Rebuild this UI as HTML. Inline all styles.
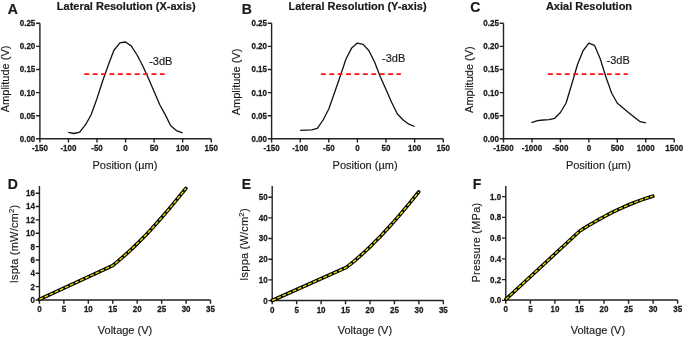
<!DOCTYPE html><html><head><meta charset="utf-8"><style>
html,body{margin:0;padding:0;background:#fff;width:685px;height:338px;overflow:hidden}
svg{display:block;position:absolute;left:0;top:0} .ov{will-change:transform} text{font-family:"Liberation Sans", sans-serif;fill:#1a1a1a} .tk{font-size:8px;font-weight:bold;stroke:#1a1a1a;stroke-width:0.25px} .pl{font-size:14px;font-weight:bold;stroke:#1a1a1a;stroke-width:0.2px} .ti{font-size:11px;font-weight:bold;stroke:#1a1a1a;stroke-width:0.2px} .lb{font-size:11px;stroke:#1a1a1a;stroke-width:0.15px}
</style></head><body>
<svg width="685" height="338" viewBox="0 0 685 338">
<rect width="685" height="338" fill="#fff"/>
<path d="M39.9 23.3V138.8H211.2" fill="none" stroke="#222" stroke-width="1.4"/>
<path d="M36.1 138.8H39.9M36.1 115.7H39.9M36.1 92.6H39.9M36.1 69.5H39.9M36.1 46.4H39.9M36.1 23.3H39.9M39.9 138.8V142.6M68.45 138.8V142.6M97 138.8V142.6M125.55 138.8V142.6M154.1 138.8V142.6M182.65 138.8V142.6M211.2 138.8V142.6" fill="none" stroke="#222" stroke-width="1.4"/>
<path d="M271.6 23.3V138.8H443.2" fill="none" stroke="#222" stroke-width="1.4"/>
<path d="M267.8 138.8H271.6M267.8 115.7H271.6M267.8 92.6H271.6M267.8 69.5H271.6M267.8 46.4H271.6M267.8 23.3H271.6M271.6 138.8V142.6M300.2 138.8V142.6M328.8 138.8V142.6M357.4 138.8V142.6M386 138.8V142.6M414.6 138.8V142.6M443.2 138.8V142.6" fill="none" stroke="#222" stroke-width="1.4"/>
<path d="M503.5 23.3V138.8H674.2" fill="none" stroke="#222" stroke-width="1.4"/>
<path d="M499.7 138.8H503.5M499.7 115.7H503.5M499.7 92.6H503.5M499.7 69.5H503.5M499.7 46.4H503.5M499.7 23.3H503.5M503.5 138.8V142.6M531.95 138.8V142.6M560.4 138.8V142.6M588.85 138.8V142.6M617.3 138.8V142.6M645.75 138.8V142.6M674.2 138.8V142.6" fill="none" stroke="#222" stroke-width="1.4"/>
<path d="M68.3 132.4 L74 133.5 L79.7 132.1 L85.9 124.2 L91.1 114.8 L97 98.5 L102.8 80.5 L108.5 64.5 L113.8 50.5 L119.9 42.8 L125.4 42 L131.2 45.9 L137.1 55 L142.8 66 L148.5 78.4 L154.2 91.7 L159.9 105 L165.6 115.4 L170.7 125.7 L177 130.9 L182.6 132.8" fill="none" stroke="#111" stroke-width="1.3" stroke-linejoin="round"/>
<path d="M300.2 130.4 L305.9 130.2 L311.6 129.9 L317.3 128.3 L323.1 120 L328.8 109 L334.5 92.7 L340.2 76.3 L346 59 L351.7 47.9 L357.4 43.1 L363.1 44.4 L368.8 50.5 L374.6 62 L380.3 76.8 L386 89.6 L391.7 102.5 L397.4 114 L403.2 120 L408.9 124.2 L414.6 126.5" fill="none" stroke="#111" stroke-width="1.3" stroke-linejoin="round"/>
<path d="M531.4 122.7 L537.6 120.7 L543.3 120 L549 119.7 L554.7 118.3 L560.4 112.5 L566.1 103 L571.8 84 L577.5 64.5 L583.2 50.5 L588.9 43.1 L594.6 45.4 L600.3 59 L606 77.2 L611.7 93.3 L617.4 103.3 L623.1 108 L628.7 112.7 L634.4 117.3 L640.1 121.7 L645.8 122.8" fill="none" stroke="#111" stroke-width="1.3" stroke-linejoin="round"/>
<path d="M84.3 74.1H164.7" stroke="#ff0f0f" stroke-width="1.7" stroke-dasharray="4.9 3.5"/>
<path d="M320.9 74.1H400.9" stroke="#ff0f0f" stroke-width="1.7" stroke-dasharray="4.9 3.5"/>
<path d="M548 74.1H627.8" stroke="#ff0f0f" stroke-width="1.7" stroke-dasharray="4.9 3.5"/>
<path d="M39.45 186V300H210.53" fill="none" stroke="#222" stroke-width="1.4"/>
<path d="M35.65 300H39.45M35.65 286.65H39.45M35.65 273.3H39.45M35.65 259.95H39.45M35.65 246.6H39.45M35.65 233.25H39.45M35.65 219.9H39.45M35.65 206.55H39.45M35.65 193.2H39.45M39.45 300V303.8M63.89 300V303.8M88.33 300V303.8M112.77 300V303.8M137.21 300V303.8M161.65 300V303.8M186.09 300V303.8M210.53 300V303.8" fill="none" stroke="#222" stroke-width="1.4"/>
<path d="M39.45 299.4 L112.6 265.6 L117.49 261.63 L122.37 257.46 L127.26 253.1 L132.15 248.56 L137.03 243.84 L141.92 238.96 L146.81 233.9 L151.69 228.69 L156.58 223.32 L161.47 217.81 L166.35 212.16 L171.24 206.38 L176.13 200.47 L181.01 194.44 L185.9 188.29" fill="none" stroke="#000" stroke-width="3.6" stroke-linecap="round" stroke-linejoin="round"/>
<path d="M39.45 299.4 L112.6 265.6 L117.49 261.63 L122.37 257.46 L127.26 253.1 L132.15 248.56 L137.03 243.84 L141.92 238.96 L146.81 233.9 L151.69 228.69 L156.58 223.32 L161.47 217.81 L166.35 212.16 L171.24 206.38 L176.13 200.47 L181.01 194.44 L185.9 188.29" fill="none" stroke="#e6de00" stroke-width="1.4" stroke-dasharray="3.9 1.7"/>
<path d="M272.2 186.1V300.5H443.35" fill="none" stroke="#222" stroke-width="1.4"/>
<path d="M268.4 300.6H272.2M268.4 279.92H272.2M268.4 259.24H272.2M268.4 238.56H272.2M268.4 217.88H272.2M268.4 197.2H272.2M272.2 300.5V304.3M296.65 300.5V304.3M321.1 300.5V304.3M345.55 300.5V304.3M370 300.5V304.3M394.45 300.5V304.3M418.9 300.5V304.3M443.35 300.5V304.3" fill="none" stroke="#222" stroke-width="1.4"/>
<path d="M272.2 300.5 L346.3 267.45 L351.13 263.62 L355.95 259.59 L360.78 255.37 L365.61 250.96 L370.43 246.36 L375.26 241.59 L380.09 236.65 L384.91 231.55 L389.74 226.3 L394.57 220.9 L399.39 215.35 L404.22 209.67 L409.05 203.87 L413.87 197.94 L418.7 191.9" fill="none" stroke="#000" stroke-width="3.6" stroke-linecap="round" stroke-linejoin="round"/>
<path d="M272.2 300.5 L346.3 267.45 L351.13 263.62 L355.95 259.59 L360.78 255.37 L365.61 250.96 L370.43 246.36 L375.26 241.59 L380.09 236.65 L384.91 231.55 L389.74 226.3 L394.57 220.9 L399.39 215.35 L404.22 209.67 L409.05 203.87 L413.87 197.94 L418.7 191.9" fill="none" stroke="#e6de00" stroke-width="1.4" stroke-dasharray="3.9 1.7"/>
<path d="M505.8 186.1V300H677.65" fill="none" stroke="#222" stroke-width="1.4"/>
<path d="M502 300.4H505.8M502 279.64H505.8M502 258.88H505.8M502 238.12H505.8M502 217.36H505.8M502 196.6H505.8M505.8 300V303.8M530.35 300V303.8M554.9 300V303.8M579.45 300V303.8M604 300V303.8M628.55 300V303.8M653.1 300V303.8M677.65 300V303.8" fill="none" stroke="#222" stroke-width="1.4"/>
<path d="M505.8 299.4 L579.5 231.2 L584.39 228.09 L589.27 225.09 L594.16 222.2 L599.05 219.41 L603.93 216.73 L608.82 214.15 L613.71 211.69 L618.59 209.34 L623.48 207.11 L628.37 204.99 L633.25 202.99 L638.14 201.11 L643.03 199.35 L647.91 197.71 L652.8 196.2" fill="none" stroke="#000" stroke-width="3.6" stroke-linecap="round" stroke-linejoin="round"/>
<path d="M505.8 299.4 L579.5 231.2 L584.39 228.09 L589.27 225.09 L594.16 222.2 L599.05 219.41 L603.93 216.73 L608.82 214.15 L613.71 211.69 L618.59 209.34 L623.48 207.11 L628.37 204.99 L633.25 202.99 L638.14 201.11 L643.03 199.35 L647.91 197.71 L652.8 196.2" fill="none" stroke="#e6de00" stroke-width="1.4" stroke-dasharray="3.9 1.7"/>
</svg>
<svg class="ov" width="685" height="338" viewBox="0 0 685 338">
<text transform="translate(35.3 141.7) scale(1 1.14)" text-anchor="end" class="tk">0.00</text>
<text transform="translate(35.3 118.6) scale(1 1.14)" text-anchor="end" class="tk">0.05</text>
<text transform="translate(35.3 95.5) scale(1 1.14)" text-anchor="end" class="tk">0.10</text>
<text transform="translate(35.3 72.4) scale(1 1.14)" text-anchor="end" class="tk">0.15</text>
<text transform="translate(35.3 49.3) scale(1 1.14)" text-anchor="end" class="tk">0.20</text>
<text transform="translate(35.3 26.2) scale(1 1.14)" text-anchor="end" class="tk">0.25</text>
<text transform="translate(39.9 151.2) scale(1 1.14)" text-anchor="middle" class="tk">-150</text>
<text transform="translate(68.45 151.2) scale(1 1.14)" text-anchor="middle" class="tk">-100</text>
<text transform="translate(97 151.2) scale(1 1.14)" text-anchor="middle" class="tk">-50</text>
<text transform="translate(125.55 151.2) scale(1 1.14)" text-anchor="middle" class="tk">0</text>
<text transform="translate(154.1 151.2) scale(1 1.14)" text-anchor="middle" class="tk">50</text>
<text transform="translate(182.65 151.2) scale(1 1.14)" text-anchor="middle" class="tk">100</text>
<text transform="translate(211.2 151.2) scale(1 1.14)" text-anchor="middle" class="tk">150</text>
<text x="7.8" y="14.2" class="pl">A</text>
<text x="126.2" y="9.8" text-anchor="middle" class="ti">Lateral Resolution (X-axis)</text>
<text transform="translate(9.2 78.9) rotate(-90)" text-anchor="middle" class="lb">Amplitude (V)</text>
<text x="124.95" y="168.7" text-anchor="middle" class="lb">Position (µm)</text>
<text transform="translate(267 141.7) scale(1 1.14)" text-anchor="end" class="tk">0.00</text>
<text transform="translate(267 118.6) scale(1 1.14)" text-anchor="end" class="tk">0.05</text>
<text transform="translate(267 95.5) scale(1 1.14)" text-anchor="end" class="tk">0.10</text>
<text transform="translate(267 72.4) scale(1 1.14)" text-anchor="end" class="tk">0.15</text>
<text transform="translate(267 49.3) scale(1 1.14)" text-anchor="end" class="tk">0.20</text>
<text transform="translate(267 26.2) scale(1 1.14)" text-anchor="end" class="tk">0.25</text>
<text transform="translate(271.6 151.2) scale(1 1.14)" text-anchor="middle" class="tk">-150</text>
<text transform="translate(300.2 151.2) scale(1 1.14)" text-anchor="middle" class="tk">-100</text>
<text transform="translate(328.8 151.2) scale(1 1.14)" text-anchor="middle" class="tk">-50</text>
<text transform="translate(357.4 151.2) scale(1 1.14)" text-anchor="middle" class="tk">0</text>
<text transform="translate(386 151.2) scale(1 1.14)" text-anchor="middle" class="tk">50</text>
<text transform="translate(414.6 151.2) scale(1 1.14)" text-anchor="middle" class="tk">100</text>
<text transform="translate(443.2 151.2) scale(1 1.14)" text-anchor="middle" class="tk">150</text>
<text x="241.8" y="14" class="pl">B</text>
<text x="357.5" y="9.8" text-anchor="middle" class="ti">Lateral Resolution (Y-axis)</text>
<text transform="translate(240.1 82) rotate(-90)" text-anchor="middle" class="lb">Amplitude (V)</text>
<text x="365.1" y="168.7" text-anchor="middle" class="lb">Position (µm)</text>
<text transform="translate(498.9 141.7) scale(1 1.14)" text-anchor="end" class="tk">0.00</text>
<text transform="translate(498.9 118.6) scale(1 1.14)" text-anchor="end" class="tk">0.05</text>
<text transform="translate(498.9 95.5) scale(1 1.14)" text-anchor="end" class="tk">0.10</text>
<text transform="translate(498.9 72.4) scale(1 1.14)" text-anchor="end" class="tk">0.15</text>
<text transform="translate(498.9 49.3) scale(1 1.14)" text-anchor="end" class="tk">0.20</text>
<text transform="translate(498.9 26.2) scale(1 1.14)" text-anchor="end" class="tk">0.25</text>
<text transform="translate(503.5 151.2) scale(1 1.14)" text-anchor="middle" class="tk">-1500</text>
<text transform="translate(531.95 151.2) scale(1 1.14)" text-anchor="middle" class="tk">-1000</text>
<text transform="translate(560.4 151.2) scale(1 1.14)" text-anchor="middle" class="tk">-500</text>
<text transform="translate(588.85 151.2) scale(1 1.14)" text-anchor="middle" class="tk">0</text>
<text transform="translate(617.3 151.2) scale(1 1.14)" text-anchor="middle" class="tk">500</text>
<text transform="translate(645.75 151.2) scale(1 1.14)" text-anchor="middle" class="tk">1000</text>
<text transform="translate(674.2 151.2) scale(1 1.14)" text-anchor="middle" class="tk">1500</text>
<text x="470.2" y="11.5" class="pl">C</text>
<text x="589" y="9.8" text-anchor="middle" class="ti">Axial Resolution</text>
<text transform="translate(472.8 79.6) rotate(-90)" text-anchor="middle" class="lb">Amplitude (V)</text>
<text x="598.4" y="168.7" text-anchor="middle" class="lb">Position (µm)</text>
<text x="149.2" y="65" class="lb">-3dB</text>
<text x="382.1" y="61.7" class="lb">-3dB</text>
<text x="606.5" y="63.5" class="lb">-3dB</text>
<text transform="translate(34.85 302.9) scale(1 1.14)" text-anchor="end" class="tk">0</text>
<text transform="translate(34.85 289.55) scale(1 1.14)" text-anchor="end" class="tk">2</text>
<text transform="translate(34.85 276.2) scale(1 1.14)" text-anchor="end" class="tk">4</text>
<text transform="translate(34.85 262.85) scale(1 1.14)" text-anchor="end" class="tk">6</text>
<text transform="translate(34.85 249.5) scale(1 1.14)" text-anchor="end" class="tk">8</text>
<text transform="translate(34.85 236.15) scale(1 1.14)" text-anchor="end" class="tk">10</text>
<text transform="translate(34.85 222.8) scale(1 1.14)" text-anchor="end" class="tk">12</text>
<text transform="translate(34.85 209.45) scale(1 1.14)" text-anchor="end" class="tk">14</text>
<text transform="translate(34.85 196.1) scale(1 1.14)" text-anchor="end" class="tk">16</text>
<text transform="translate(39.45 312.2) scale(1 1.14)" text-anchor="middle" class="tk">0</text>
<text transform="translate(63.89 312.2) scale(1 1.14)" text-anchor="middle" class="tk">5</text>
<text transform="translate(88.33 312.2) scale(1 1.14)" text-anchor="middle" class="tk">10</text>
<text transform="translate(112.77 312.2) scale(1 1.14)" text-anchor="middle" class="tk">15</text>
<text transform="translate(137.21 312.2) scale(1 1.14)" text-anchor="middle" class="tk">20</text>
<text transform="translate(161.65 312.2) scale(1 1.14)" text-anchor="middle" class="tk">25</text>
<text transform="translate(186.09 312.2) scale(1 1.14)" text-anchor="middle" class="tk">30</text>
<text transform="translate(210.53 312.2) scale(1 1.14)" text-anchor="middle" class="tk">35</text>
<text x="7.8" y="188.6" class="pl">D</text>
<text transform="translate(18 243.9) rotate(-90)" text-anchor="middle" class="lb" letter-spacing="0.2">Ispta (mW/cm<tspan font-size="8" dy="-4.3">2</tspan><tspan dy="4.3">)</tspan></text>
<text x="125" y="333.6" text-anchor="middle" class="lb">Voltage (V)</text>
<text transform="translate(267.6 303.5) scale(1 1.14)" text-anchor="end" class="tk">0</text>
<text transform="translate(267.6 282.82) scale(1 1.14)" text-anchor="end" class="tk">10</text>
<text transform="translate(267.6 262.14) scale(1 1.14)" text-anchor="end" class="tk">20</text>
<text transform="translate(267.6 241.46) scale(1 1.14)" text-anchor="end" class="tk">30</text>
<text transform="translate(267.6 220.78) scale(1 1.14)" text-anchor="end" class="tk">40</text>
<text transform="translate(267.6 200.1) scale(1 1.14)" text-anchor="end" class="tk">50</text>
<text transform="translate(272.2 312.7) scale(1 1.14)" text-anchor="middle" class="tk">0</text>
<text transform="translate(296.65 312.7) scale(1 1.14)" text-anchor="middle" class="tk">5</text>
<text transform="translate(321.1 312.7) scale(1 1.14)" text-anchor="middle" class="tk">10</text>
<text transform="translate(345.55 312.7) scale(1 1.14)" text-anchor="middle" class="tk">15</text>
<text transform="translate(370 312.7) scale(1 1.14)" text-anchor="middle" class="tk">20</text>
<text transform="translate(394.45 312.7) scale(1 1.14)" text-anchor="middle" class="tk">25</text>
<text transform="translate(418.9 312.7) scale(1 1.14)" text-anchor="middle" class="tk">30</text>
<text transform="translate(443.35 312.7) scale(1 1.14)" text-anchor="middle" class="tk">35</text>
<text x="241.8" y="188.6" class="pl">E</text>
<text transform="translate(247.8 244.4) rotate(-90)" text-anchor="middle" class="lb" letter-spacing="0.2">Isppa (W/cm<tspan font-size="8" dy="-4.3">2</tspan><tspan dy="4.3">)</tspan></text>
<text x="364.9" y="333.6" text-anchor="middle" class="lb">Voltage (V)</text>
<text transform="translate(501.2 303.3) scale(1 1.14)" text-anchor="end" class="tk">0.0</text>
<text transform="translate(501.2 282.54) scale(1 1.14)" text-anchor="end" class="tk">0.2</text>
<text transform="translate(501.2 261.78) scale(1 1.14)" text-anchor="end" class="tk">0.4</text>
<text transform="translate(501.2 241.02) scale(1 1.14)" text-anchor="end" class="tk">0.6</text>
<text transform="translate(501.2 220.26) scale(1 1.14)" text-anchor="end" class="tk">0.8</text>
<text transform="translate(501.2 199.5) scale(1 1.14)" text-anchor="end" class="tk">1.0</text>
<text transform="translate(505.8 312.2) scale(1 1.14)" text-anchor="middle" class="tk">0</text>
<text transform="translate(530.35 312.2) scale(1 1.14)" text-anchor="middle" class="tk">5</text>
<text transform="translate(554.9 312.2) scale(1 1.14)" text-anchor="middle" class="tk">10</text>
<text transform="translate(579.45 312.2) scale(1 1.14)" text-anchor="middle" class="tk">15</text>
<text transform="translate(604 312.2) scale(1 1.14)" text-anchor="middle" class="tk">20</text>
<text transform="translate(628.55 312.2) scale(1 1.14)" text-anchor="middle" class="tk">25</text>
<text transform="translate(653.1 312.2) scale(1 1.14)" text-anchor="middle" class="tk">30</text>
<text transform="translate(677.65 312.2) scale(1 1.14)" text-anchor="middle" class="tk">35</text>
<text x="472.8" y="188.5" class="pl">F</text>
<text transform="translate(479.6 242.6) rotate(-90)" text-anchor="middle" class="lb" letter-spacing="0.2">Pressure (MPa)</text>
<text x="597.9" y="333.6" text-anchor="middle" class="lb">Voltage (V)</text>
</svg></body></html>
